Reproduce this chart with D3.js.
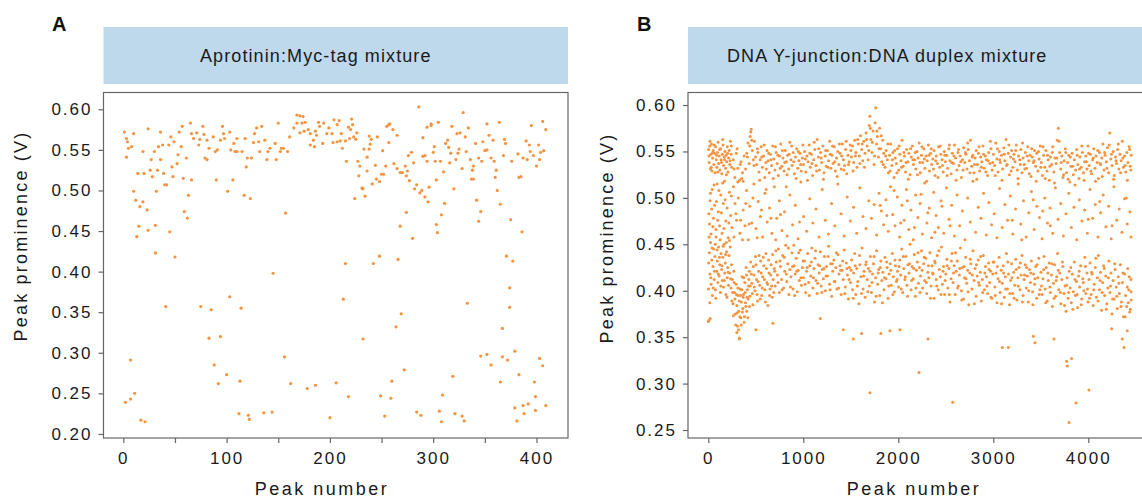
<!DOCTYPE html>
<html><head><meta charset="utf-8">
<script src="https://cdn.jsdelivr.net/npm/d3@7/dist/d3.min.js"></script>
<style>body{margin:0;background:#fff;}svg text{font-family:"Liberation Sans",Arial,Helvetica,sans-serif;}</style>
</head><body><svg id="c" width="1142" height="498"></svg>
<script>
// ---------- data ----------
const titleA = "Aprotinin:Myc-tag mixture";
const titleB = "DNA Y-junction:DNA duplex mixture";
const xLabel = "Peak number";
const yLabel = "Peak prominence (V)";
const yTicksA = [0.20,0.25,0.30,0.35,0.40,0.45,0.50,0.55,0.60];
const yTicksB = [0.25,0.30,0.35,0.40,0.45,0.50,0.55,0.60];
const xTicksA = [0,50,100,150,200,250,300,350,400];
const xLabelsA = [0,100,200,300,400];
const xTicksB = [0,1000,2000,3000,4000];

// Panel A: [peak number, prominence V]
const pointsA = [[1,.572],[3,.564],[4,.560],[3,.541],[8,.554],[10,.570],[5,.552],[14,.521],[10,.499],[12,.488],[16,.480],[15,.456],[13,.443],[19,.486],[19,.548],[20,.521],[23,.476],[24,.576],[24,.451],[26,.525],[27,.538],[28,.517],[30,.548],[31,.423],[31,.457],[32,.499],[33,.525],[34,.554],[36,.538],[36,.572],[38,.556],[39,.521],[40,.507],[42,.507],[41,.357],[44,.556],[45,.449],[46,.566],[47,.529],[48,.517],[49,.560],[50,.418],[52,.533],[53,.544],[54,.572],[56,.554],[57,.579],[58,.515],[59,.474],[61,.540],[62,.466],[63,.494],[65,.583],[66,.513],[66,.570],[68,.564],[71,.571],[73,.556],[74,.563],[75,.357],[77,.579],[78,.569],[79,.540],[81,.562],[81,.538],[83,.552],[85,.353],[83,.318],[87,.566],[88,.285],[89,.548],[90,.513],[91,.550],[92,.262],[94,.320],[94,.562],[96,.579],[97,.570],[98,.564],[100,.273],[101,.499],[103,.572],[103,.369],[104,.550],[106,.513],[107,.558],[108,.548],[110,.564],[110,.548],[112,.225],[113,.265],[114,.355],[115,.548],[117,.494],[118,.564],[119,.529],[120,.540],[121,.223],[122,.218],[123,.490],[124,.540],[126,.559],[127,.570],[129,.577],[131,.560],[132,.548],[134,.579],[136,.226],[137,.562],[139,.538],[140,.548],[142,.552],[144,.227],[145,.398],[147,.558],[148,.538],[150,.583],[152,.548],[153,.552],[155,.552],[156,.295],[157,.472],[159,.548],[161,.566],[162,.262],
[168,.593],[171,.592],[174,.591],[168,.583],[173,.583],[176,.584],[165,.577],[171,.571],[175,.573],[179,.575],[181,.570],[186,.573],[189,.584],[190,.579],[187,.568],[184,.562],[181,.556],[185,.554],[193,.558],[194,.583],[197,.570],[199,.577],
[202,.570],[204,.587],[207,.581],[209,.586],[211,.570],[203,.559],[207,.560],[210,.561],[212,.552],[215,.561],[218,.578],[220,.575],[221,.588],[222,.581],[223,.566],[226,.571],[225,.563],[219,.564],[216,.536],[227,.536],[229,.530],[224,.490],[228,.518],[231,.503],[232,.502],[234,.493],[233,.551],[236,.541],[236,.524],[238,.567],[239,.557],[240,.563],[238,.551],[241,.508],[244,.531],[245,.514],[246,.566],[248,.511],[250,.520],[252,.520],[251,.549],[254,.530],[255,.579],[257,.581],[258,.582],[257,.559],[261,.575],[262,.533],[265,.527],[265,.568],[268,.522],[270,.522],[273,.530],[275,.524],[274,.518],[277,.512],[276,.543],[279,.547],[281,.534],[282,.502],[284,.507],[286,.603],[287,.497],[289,.500],[290,.542],[290,.565],[292,.543],[292,.492],[294,.578],[294,.536],[295,.486],[296,.504],[298,.580],[298,.582],[300,.547],[301,.554],[302,.536],[303,.513],[305,.584],[307,.536],[310,.523],[311,.484],[308,.470],[312,.558],[314,.562],[315,.553],[316,.534],[317,.546],[318,.579],[320,.502],[322,.538],[323,.570],[324,.546],[325,.551],[326,.571],[328,.527],[329,.596],[331,.566],[332,.548],[334,.577],[336,.538],[337,.514],[338,.525],[339,.530],[339,.514],[341,.558],[342,.488],[344,.540],[346,.474],[347,.536],[348,.560],[344,.462],[350,.549],[352,.582],[352,.550],[354,.568],[356,.540],[358,.562],[359,.536],[360,.516],[361,.525],[362,.500],[364,.584],[365,.483],[368,.543],[369,.563],[370,.558],[371,.419],[375,.464],[377,.413],[376,.536],[382,.545],[383,.516],[385,.517],[386,.449],[387,.540],[390,.561],[391,.538],[393,.556],[394,.548],[395,.580],[397,.543],[400,.530],[402,.556],[403,.538],[404,.547],[406,.585],[407,.549],[409,.575],[215,.410],[242,.410],[248,.419],[266,.415],[268,.456],[274,.473],[280,.441],[303,.458],[304,.448],
[7,.291],[178,.256],[186,.260],[206,.263],[2,.239],[7,.243],[11,.250],[17,.217],[21,.215],[200,.220],
[213,.366],[333,.361],[374,.380],[374,.356],[367,.330],[269,.348],[264,.332],[232,.317],[346,.296],[352,.298],[356,.285],[367,.295],[372,.291],[379,.302],[383,.273],[403,.293],[406,.284],[365,.264],[398,.264],[272,.279],[260,.265],[319,.271],[218,.246],[249,.247],[259,.244],[309,.248],[253,.222],[284,.227],[288,.223],[306,.228],[308,.215],[321,.225],[328,.222],[330,.216],[379,.232],[381,.216],[387,.235],[388,.225],[392,.237],[399,.246],[399,.229],[409,.235]];

// Panel B: upper band (~0.54 V)
const upperB = [[3,.552],[9,.538],[14,.556],[21,.531],[27,.547],[33,.558],[38,.529],[45,.543],[52,.551],[58,.536],[64,.548],[71,.527],[77,.555],[83,.541],[90,.533],[96,.549],[103,.560],[109,.537],[116,.545],[122,.530],[129,.553],[135,.541],[142,.526],[148,.547],[155,.557],[161,.535],[168,.544],[174,.550],[181,.532],[187,.546],[194,.539],[200,.555],[207,.528],[213,.543],[220,.551],[226,.536],[233,.561],[240,.547],[246,.533],
[262,.541],[279,.522],[295,.548],[311,.532],[328,.519],[344,.539],[360,.527],[377,.545],[393,.531],
[405,.548],[418,.559],[430,.537],[441,.566],[452,.574],[463,.551],[474,.541],[486,.561],[497,.544],
[510,.536],[522,.549],[534,.528],[546,.541],[558,.555],[570,.533],[582,.545],[594,.522],[606,.538],[618,.551],[630,.540],[642,.527],[654,.547],[666,.535],[678,.556],[690,.542],[702,.530],[714,.549],[726,.537],[738,.524],[750,.545],[762,.558],[774,.534],[786,.543],[798,.529],[810,.551],[822,.539],[834,.546],[846,.531],[858,.560],[870,.541],[882,.535],[894,.549],[906,.526],[918,.544],[930,.553],[942,.532],[954,.540],[966,.548],[978,.529],[990,.543],
[1002,.536],[1014,.550],[1026,.528],[1038,.545],[1050,.539],[1062,.557],[1074,.533],[1086,.547],[1098,.524],[1110,.541],[1122,.552],[1134,.535],[1146,.563],[1158,.544],[1170,.530],[1182,.549],[1194,.538],[1206,.556],[1218,.527],[1230,.545],[1242,.534],[1254,.551],[1266,.540],[1278,.561],[1290,.532],[1302,.546],[1314,.537],[1326,.555],[1338,.529],[1350,.543],[1362,.550],[1374,.536],[1386,.548],[1398,.531],[1410,.558],[1422,.541],[1434,.535],[1446,.552],[1458,.526],[1470,.546],[1482,.539],[1494,.557],
[1506,.544],[1518,.556],[1530,.538],[1542,.562],[1554,.549],[1566,.533],[1578,.558],[1590,.545],[1602,.567],[1614,.552],[1626,.540],[1638,.561],
[1650,.548],[1661,.570],[1672,.556],[1683,.541],[1694,.578],[1700,.588],[1712,.563],[1723,.549],[1734,.572],[1745,.536],[1756,.581],[1762,.597],[1770,.558],[1781,.566],[1792,.544],[1803,.575],[1814,.553],[1825,.539],[1836,.562],[1847,.548],
[1860,.533],[1872,.551],[1884,.541],[1896,.527],[1908,.546],[1920,.558],[1932,.535],[1944,.549],[1956,.522],[1968,.543],[1980,.537],[1992,.553],[2004,.530],[2016,.547],[2028,.540],[2040,.562],[2052,.534],[2064,.545],[2076,.528],[2088,.552],[2100,.539],[2112,.548],[2124,.525],[2136,.544],[2148,.556],[2160,.536],[2172,.541],[2184,.531],[2196,.550],[2208,.543],[2220,.559],[2232,.527],[2244,.546],[2256,.538],[2268,.553],[2280,.532],[2292,.545],[2304,.540],[2316,.557],[2328,.529],[2340,.548],[2352,.536],[2364,.542],[2376,.551],[2388,.524],[2400,.545],[2412,.537],[2424,.555],[2436,.533],[2448,.547],[2460,.541],[2472,.528],[2484,.550],[2496,.539],
[2508,.546],[2520,.532],[2532,.553],[2544,.540],[2556,.526],[2568,.548],[2580,.537],[2592,.557],[2604,.543],[2616,.530],[2628,.549],[2640,.535],[2652,.545],[2664,.522],[2676,.541],[2688,.554],[2700,.538],[2712,.547],[2724,.531],[2736,.552],[2748,.540],[2760,.562],[2772,.534],[2784,.546],[2796,.527],[2808,.543],[2820,.551],[2832,.536],[2844,.548],[2856,.529],[2868,.544],[2880,.539],[2892,.556],[2904,.532],[2916,.545],[2928,.541],[2940,.524],[2952,.549],[2964,.537],[2976,.553],[2988,.530],
[3002,.547],[3014,.535],[3026,.559],[3038,.542],[3050,.528],[3062,.550],[3074,.538],[3086,.546],[3098,.531],[3110,.554],[3122,.540],[3134,.563],[3146,.536],[3158,.548],[3170,.525],[3182,.544],[3194,.551],[3206,.533],[3218,.547],[3230,.539],[3242,.557],[3254,.530],[3266,.545],[3278,.541],[3290,.552],[3302,.527],[3314,.543],[3326,.536],[3338,.549],[3350,.532],[3362,.555],[3374,.540],[3386,.546],[3398,.523],[3410,.544],[3422,.538],[3434,.551],[3446,.534],[3458,.548],[3470,.529],[3482,.542],[3494,.556],
[3506,.538],[3518,.524],[3530,.546],[3542,.533],[3554,.551],[3566,.529],[3578,.541],[3590,.519],[3602,.544],[3614,.536],[3626,.555],[3638,.528],[3650,.543],[3662,.537],[3674,.562],[3686,.575],[3698,.549],[3710,.531],[3722,.545],[3734,.522],[3746,.540],[3758,.553],[3770,.527],[3782,.538],[3794,.546],[3806,.517],[3818,.534],[3830,.548],[3842,.525],[3854,.541],[3866,.530],[3878,.552],[3890,.536],[3902,.521],[3914,.544],[3926,.533],[3938,.549],[3950,.527],[3962,.539],[3974,.545],[3986,.531],[3998,.556],
[4010,.535],[4022,.547],[4034,.526],[4046,.541],[4058,.553],[4070,.532],[4082,.545],[4094,.538],[4106,.521],[4118,.549],[4130,.536],[4142,.543],[4154,.558],[4166,.530],[4178,.546],[4190,.539],[4202,.554],[4214,.527],[4226,.570],[4238,.542],[4250,.535],[4262,.550],[4274,.524],[4286,.544],[4298,.537],[4310,.552],[4322,.531],[4334,.547],[4346,.540],[4358,.561],[4370,.533],[4382,.545],[4394,.528],[4406,.549],[4418,.538],[4430,.555],[4442,.534],[4452,.546]];

// Panel B: more peaks
const upperB2 = [[7,.545],[18,.561],[31,.533],[47,.549],[61,.557],[86,.546],[99,.528],[119,.552],[138,.538],[151,.563],[171,.541],[190,.525],[203,.548],[229,.540],[243,.556],[271,.531],[303,.553],[336,.536],[368,.518],[412,.544],[436,.556],[447,.571],[458,.562],[481,.535],[516,.553],[540,.519],[563,.544],[588,.557],[611,.531],[636,.548],[660,.541],[684,.521],[707,.555],[733,.546],[757,.532],[780,.551],[805,.538],[829,.525],[852,.547],[877,.556],[899,.539],[924,.521],[948,.550],[972,.536],[996,.557],[1020,.542],[1044,.519],[1068,.548],[1092,.537],[1116,.560],[1140,.529],[1164,.553],[1188,.543],[1212,.520],[1236,.551],[1260,.533],[1284,.547],[1308,.556],[1332,.539],[1356,.523],[1380,.558],[1404,.545],[1428,.530],[1452,.561],[1476,.536],[1500,.551],[1524,.529],[1548,.545],[1572,.563],[1596,.537],[1620,.558],[1644,.533],[1667,.563],[1689,.551],[1706,.575],[1728,.560],[1750,.545],[1775,.572],[1797,.553],[1820,.567],[1842,.536],[1866,.545],[1890,.558],[1914,.529],[1938,.541],[1962,.551],[1986,.527],[2010,.556],[2034,.533],[2058,.549],[2082,.538],[2106,.520],[2130,.553],[2154,.541],[2178,.549],[2202,.525],[2226,.538],[2250,.555],[2274,.542],[2298,.518],[2322,.546],[2346,.553],[2370,.531],[2394,.540],[2418,.522],[2442,.556],[2466,.535],[2490,.546],[2514,.524],[2538,.557],[2562,.538],[2586,.545],[2610,.519],[2634,.552],[2658,.539],[2682,.530],[2706,.549],[2730,.559],[2754,.527],[2778,.544],[2802,.536],[2826,.520],[2850,.555],[2874,.533],[2898,.547],[2922,.528],[2946,.540],[2970,.561],[2994,.538],[3020,.524],[3044,.553],[3068,.541],[3092,.519],[3116,.547],[3140,.535],[3164,.557],[3188,.529],[3212,.542],[3236,.551],[3260,.521],[3284,.536],[3308,.559],[3332,.531],[3356,.545],[3380,.526],[3404,.553],[3428,.540],[3452,.518],[3476,.550],[3500,.533],[3524,.555],[3548,.521],[3572,.546],[3596,.534],[3620,.549],[3644,.516],[3668,.543],[3692,.561],[3716,.538],[3740,.525],[3764,.549],[3788,.520],[3812,.544],[3836,.534],[3860,.514],[3884,.546],[3908,.531],[3932,.556],[3956,.519],[3980,.539],[4004,.548],[4028,.529],[4052,.543],[4076,.518],[4100,.551],[4124,.537],[4148,.523],[4172,.549],[4196,.532],[4220,.557],[4244,.547],[4268,.520],[4292,.540],[4316,.558],[4340,.527],[4364,.543],[4388,.535],[4412,.519],[4436,.552],[4447,.530]];

// Panel B: lower band (~0.41 V)
const lowerB = [[2,.402],[6,.368],[11,.441],[17,.418],[24,.452],[30,.407],[36,.433],[43,.395],[49,.426],[56,.445],[62,.412],[69,.437],[75,.401],[82,.458],[88,.421],[95,.432],[101,.409],[108,.447],[114,.416],[121,.428],[127,.398],[134,.440],[140,.423],[147,.411],[153,.436],[160,.404],[166,.450],[173,.419],[179,.430],[186,.396],[192,.442],[199,.414],[205,.425],[212,.406],[218,.438],[225,.419],[231,.447],[238,.403],[244,.428],
[252,.412],[260,.386],[268,.421],[276,.398],[284,.375],[292,.407],[300,.384],[307,.362],[314,.395],[321,.378],[328,.349],[335,.402],[342,.371],[349,.388],[356,.415],[363,.381],[370,.396],[377,.366],[384,.409],[391,.387],[398,.425],[405,.378],[412,.401],[419,.391],[426,.412],[433,.383],[440,.405],
[452,.418],[463,.397],[474,.426],[485,.404],[496,.437],[507,.412],[518,.389],[529,.421],[540,.406],[551,.432],[562,.395],[573,.415],[584,.427],[595,.401],[606,.440],[617,.409],[628,.384],[639,.419],[650,.402],[661,.428],[672,.393],[683,.412],[694,.424],
[705,.405],[716,.431],[727,.417],[738,.445],[749,.398],[760,.426],[771,.412],[782,.438],[793,.403],[804,.421],[815,.449],[826,.410],[837,.429],[848,.396],[859,.423],[870,.415],[881,.441],[892,.402],[903,.427],[914,.418],[925,.435],[936,.399],[947,.422],[958,.411],[969,.444],[980,.406],[991,.425],
[1002,.414],[1013,.432],[1024,.398],[1035,.421],[1046,.440],[1057,.409],[1068,.427],[1079,.416],[1090,.446],[1101,.403],[1112,.424],[1123,.435],[1134,.411],[1145,.397],[1156,.428],[1167,.419],[1178,.442],[1189,.405],[1200,.423],[1211,.413],[1222,.437],[1233,.400],[1244,.426],[1255,.416],[1266,.448],[1277,.407],[1288,.429],[1299,.394],[1310,.421],[1321,.433],[1332,.410],[1343,.425],[1354,.402],[1365,.439],[1376,.418],[1387,.427],[1398,.396],[1409,.422],[1420,.412],[1431,.444],[1442,.404],[1453,.430],[1464,.417],[1475,.391],[1486,.425],[1497,.409],
[1508,.433],[1519,.401],[1530,.419],[1541,.440],[1552,.396],[1563,.424],[1574,.410],[1585,.386],[1596,.428],[1607,.415],[1618,.446],[1629,.402],[1640,.421],[1651,.393],[1662,.431],[1673,.412],[1684,.424],[1695,.405],[1706,.437],[1717,.398],[1728,.418],[1739,.429],[1750,.388],[1761,.414],[1772,.443],[1783,.407],[1794,.423],[1805,.395],[1816,.432],[1827,.411],[1838,.420],[1849,.401],[1860,.436],[1871,.413],[1882,.425],[1893,.392],[1904,.418],[1915,.429],[1926,.406],[1937,.440],[1948,.415],[1959,.399],[1970,.427],[1981,.410],[1992,.421],
[2003,.404],[2014,.433],[2025,.417],[2036,.445],[2047,.398],[2058,.424],[2069,.412],[2080,.437],[2091,.406],[2102,.428],[2113,.419],[2124,.450],[2135,.401],[2146,.426],[2157,.413],[2168,.439],[2179,.394],[2190,.422],[2201,.431],[2212,.408],[2223,.425],[2234,.416],[2245,.443],[2256,.403],[2267,.429],[2278,.411],[2289,.435],[2300,.397],[2311,.420],[2322,.414],[2333,.441],[2344,.405],[2355,.427],[2366,.418],[2377,.392],[2388,.430],[2399,.412],[2410,.438],[2421,.401],[2432,.423],[2443,.415],[2454,.447],[2465,.407],[2476,.426],[2487,.396],
[2500,.418],[2511,.434],[2522,.403],[2533,.424],[2544,.388],[2555,.413],[2566,.440],[2577,.409],[2588,.427],[2599,.396],[2610,.421],[2621,.432],[2632,.405],[2643,.417],[2654,.446],[2665,.400],[2676,.425],[2687,.391],[2698,.414],[2709,.436],[2720,.408],[2731,.422],[2742,.385],[2753,.419],[2764,.429],[2775,.402],[2786,.443],[2797,.411],[2808,.424],[2819,.394],[2830,.416],[2841,.433],[2852,.406],[2863,.420],[2874,.389],[2885,.412],[2896,.438],[2907,.401],[2918,.426],[2929,.415],[2940,.397],[2951,.430],[2962,.409],[2973,.421],[2984,.392],[2995,.418],
[3006,.431],[3017,.404],[3028,.419],[3039,.387],[3050,.413],[3061,.436],[3072,.398],[3083,.422],[3094,.408],[3105,.427],[3116,.393],[3127,.415],[3138,.440],[3149,.402],[3160,.418],[3171,.385],[3182,.411],[3193,.429],[3204,.397],[3215,.420],[3226,.406],[3237,.434],[3248,.390],[3259,.414],[3270,.425],[3281,.401],[3292,.417],[3303,.438],[3314,.395],[3325,.412],[3336,.428],[3347,.403],[3358,.416],[3369,.388],[3380,.423],[3391,.409],[3402,.432],[3413,.399],[3424,.418],[3435,.407],[3446,.426],[3457,.392],[3468,.414],[3479,.435],[3490,.401],
[3502,.420],[3513,.396],[3524,.413],[3535,.437],[3546,.402],[3557,.425],[3568,.389],[3579,.411],[3590,.430],[3601,.398],[3612,.417],[3623,.383],[3634,.408],[3645,.428],[3656,.394],[3667,.415],[3678,.440],[3689,.401],[3700,.419],[3711,.386],[3722,.412],[3733,.426],[3744,.397],[3755,.405],[3766,.378],[3777,.414],[3788,.392],[3799,.421],[3810,.403],[3821,.387],[3832,.418],[3843,.399],[3854,.431],[3865,.395],[3876,.410],[3887,.382],[3898,.416],[3909,.404],[3920,.427],[3931,.391],[3942,.413],[3953,.400],[3964,.436],[3975,.397],[3986,.419],[3997,.388],
[4008,.412],[4019,.430],[4030,.396],[4041,.418],[4052,.384],[4063,.407],[4074,.425],[4085,.393],[4096,.414],[4107,.438],[4118,.401],[4129,.420],[4140,.379],[4151,.409],[4162,.427],[4173,.395],[4184,.416],[4195,.386],[4206,.403],[4217,.432],[4228,.398],[4239,.419],[4250,.375],[4261,.411],[4272,.391],[4283,.423],[4294,.404],[4305,.381],[4316,.415],[4327,.397],[4338,.428],[4349,.388],[4360,.409],[4371,.372],[4382,.418],[4393,.395],[4404,.383],[4415,.424],[4426,.401],[4437,.377],[4448,.412],[4452,.390]];

// Panel B: more peaks
const lowerB2 = [[4,.430],[15,.387],[27,.414],[40,.446],[52,.403],[65,.421],[79,.392],[92,.444],[105,.418],[117,.436],[131,.405],[144,.427],[157,.448],[170,.411],[183,.439],[196,.393],[209,.420],[222,.454],[235,.413],[248,.389],[256,.398],[264,.373],[272,.409],[280,.391],[288,.363],[296,.396],[304,.376],[311,.403],[318,.358],[325,.389],[332,.372],[339,.395],[346,.363],[353,.401],[360,.377],[367,.393],[374,.414],[381,.372],[388,.398],[395,.383],[402,.417],[409,.393],[416,.371],[423,.405],[430,.421],[437,.394],[446,.431],[458,.408],[469,.385],[480,.417],[491,.400],[502,.428],[513,.396],[524,.410],[535,.438],[546,.391],[557,.419],[568,.403],[579,.436],[590,.412],[601,.388],[612,.424],[623,.407],[634,.433],[645,.395],[656,.417],[667,.405],[678,.439],[689,.398],[700,.421],
[711,.443],[733,.409],[755,.432],[777,.401],[799,.436],[821,.418],[843,.446],[865,.404],[887,.426],[909,.395],[931,.421],[953,.441],[975,.414],[997,.432],
[1019,.407],[1041,.425],[1063,.395],[1085,.431],[1107,.414],[1129,.443],[1151,.408],[1173,.427],[1195,.398],[1217,.424],[1239,.416],[1261,.437],[1283,.401],[1305,.429],[1327,.410],[1349,.441],[1371,.403],[1393,.422],[1415,.432],[1437,.397],[1459,.424],[1481,.412],
[1503,.422],[1525,.392],[1547,.427],[1569,.405],[1591,.438],[1613,.397],[1635,.416],[1657,.428],[1679,.399],[1701,.421],[1723,.409],[1745,.437],[1767,.394],[1789,.419],[1811,.425],[1833,.387],[1855,.414],[1877,.431],[1899,.405],[1921,.422],[1943,.396],[1965,.433],[1987,.412],
[2009,.426],[2031,.402],[2053,.437],[2075,.415],[2097,.394],[2119,.429],[2141,.411],[2163,.424],[2185,.403],[2207,.441],[2229,.398],[2251,.422],[2273,.436],[2295,.409],[2317,.427],[2339,.392],[2361,.419],[2383,.432],[2405,.405],[2427,.443],[2449,.396],[2471,.421],[2493,.411],
[2515,.427],[2537,.396],[2559,.432],[2581,.419],[2603,.441],[2625,.403],[2647,.424],[2669,.390],[2691,.426],[2713,.413],[2735,.399],[2757,.434],[2779,.417],[2801,.386],[2823,.428],[2845,.409],[2867,.437],[2889,.398],[2911,.419],[2933,.405],[2955,.423],[2977,.393],[2999,.431],
[3021,.395],[3043,.426],[3065,.410],[3087,.386],[3109,.419],[3131,.402],[3153,.431],[3175,.397],[3197,.414],[3219,.392],[3241,.423],[3263,.405],[3285,.430],[3307,.388],[3329,.417],[3351,.425],[3373,.400],[3395,.419],[3417,.385],[3439,.413],[3461,.428],[3483,.396],
[3508,.405],[3530,.423],[3552,.387],[3574,.419],[3596,.404],[3618,.429],[3640,.392],[3662,.411],[3684,.422],[3706,.398],[3728,.431],[3750,.384],[3772,.406],[3794,.398],[3816,.425],[3838,.380],[3860,.412],[3882,.396],[3904,.421],[3926,.385],[3948,.409],[3970,.426],[3992,.402],
[4014,.392],[4036,.420],[4058,.401],[4080,.435],[4102,.389],[4124,.411],[4146,.398],[4168,.424],[4190,.380],[4212,.414],[4234,.405],[4256,.391],[4278,.429],[4300,.394],[4322,.408],[4344,.383],[4366,.419],[4388,.372],[4410,.404],[4421,.387],[4432,.415],[4443,.380],[4450,.399]];

// Panel B: peaks between the two bands
const middleB = [[5,.483],[12,.472],[19,.497],[28,.461],[40,.509],[54,.478],[66,.492],[80,.466],[93,.515],[105,.485],[118,.470],[131,.503],[145,.462],[158,.494],[170,.518],[184,.475],[197,.489],[210,.457],[223,.506],[236,.481],[249,.468],[265,.512],[281,.494],[297,.476],[316,.500],[333,.462],[351,.521],[368,.487],[386,.470],[403,.508],[421,.455],[437,.491],[458,.473],[480,.515],[502,.467],[525,.496],[548,.480],[572,.458],[596,.505],[620,.474],[645,.489],[670,.462],[695,.512],[720,.478],[748,.497],[775,.465],[802,.485],[830,.459],[858,.503],[887,.471],[916,.492],[945,.456],[974,.517],[1003,.480],[1035,.464],[1068,.499],[1100,.473],[1133,.488],[1166,.458],[1199,.509],[1232,.476],[1265,.461],[1298,.494],[1331,.470],[1364,.515],[1397,.483],[1430,.459],[1463,.501],[1496,.475],[1529,.490],[1562,.462],[1595,.511],[1628,.480],[1660,.467],[1690,.497],[1718,.478],[1746,.493],[1772,.460],[1798,.505],[1822,.486],[1846,.471],[1870,.498],[1894,.464],[1918,.512],[1942,.482],[1966,.470],[1990,.501],[2014,.458],[2038,.492],[2062,.476],[2086,.509],[2110,.466],[2134,.487],[2158,.455],[2182,.503],[2206,.479],[2230,.494],[2254,.461],[2278,.516],[2302,.473],[2326,.489],[2350,.457],[2374,.506],[2398,.481],[2422,.468],[2450,.497],[2478,.462],[2506,.511],[2534,.477],[2562,.492],[2590,.459],[2618,.503],[2646,.470],[2674,.486],[2702,.455],[2730,.500],[2758,.474],[2786,.518],[2814,.463],[2842,.490],[2870,.478],[2898,.505],[2926,.460],[2954,.495],[2982,.471],[3010,.483],[3038,.457],[3066,.510],[3094,.468],[3122,.493],[3150,.476],[3178,.502],[3206,.461],[3234,.488],[3262,.515],[3290,.472],[3318,.497],[3346,.458],[3374,.484],[3402,.507],[3430,.466],[3458,.491],[3486,.479],[3514,.456],[3542,.500],[3570,.473],[3598,.489],[3626,.462],[3654,.511],[3682,.477],[3710,.494],[3738,.459],[3766,.483],[3794,.505],[3822,.468],[3850,.490],[3878,.455],[3906,.498],[3934,.475],[3962,.487],[3990,.462],[4018,.509],[4046,.478],[4074,.493],[4102,.458],[4130,.484],[4158,.503],[4186,.469],[4214,.491],[4242,.456],[4270,.512],[4298,.476],[4326,.488],[4354,.463],[4382,.499],[4410,.472],[4438,.485],[4450,.458],
[9,.458],[23,.505],[35,.488],[48,.469],[60,.514],[73,.450],[86,.496],[99,.476],[112,.508],[125,.455],[138,.484],[151,.516],[164,.467],[177,.498],[190,.452],[216,.473],[242,.502],[270,.458],[290,.483],[310,.517],[340,.476],[360,.455],[395,.494],[430,.472],[470,.500],[515,.457],[560,.487],[610,.509],[660,.478],[710,.455],[760,.482],[820,.512],[900,.449],[960,.474],[1810,.492],[1880,.481],[1955,.508],[2025,.473],[2095,.497],[2170,.468],[2240,.504],[2310,.484],[2385,.463],[2460,.491],[2545,.470],[3200,.476],[3300,.455],[3420,.498],[3520,.486],[3600,.470],[4000,.477],[4120,.496],[4250,.470],[4400,.500]];

// Panel B: low outliers
const outliersB = [[0,.367],[20,.370],[300,.355],[326,.348],[500,.358],[680,.365],[1180,.370],[1421,.358],[1526,.348],[1614,.354],[1702,.290],[1817,.354],[1912,.357],[2017,.358],[2218,.312],[2313,.348],[2573,.280],[3095,.339],[3158,.339],[3421,.351],[3438,.344],[3639,.348],[3772,.324],[3779,.319],[3824,.327],[3797,.258],[3871,.279],[4007,.293],[4246,.359],[4358,.348],[4376,.339],[4411,.357]];

// ---------- drawing ----------
const svg = d3.select("#c");
const dotColor = "#f5933f";
const frameColor = "#666666";
const bannerColor = "#bed8ec";

function panel(o){
  const g = svg.append("g");
  const x = d3.scaleLinear().domain(o.xDom).range([o.left, o.right]);
  const y = d3.scaleLinear().domain(o.yDom).range([o.bottom, o.top]);
  g.append("rect").attr("x", o.left).attr("y", 27).attr("width", o.bannerRight - o.left).attr("height", 57).attr("fill", bannerColor);
  g.append("text").attr("x", o.titleX).attr("y", 62).attr("font-size", 18).attr("letter-spacing", 1.1).attr("fill", "#1a1a1a").text(o.title);
  g.append("text").attr("x", o.letterX).attr("y", 31).attr("font-size", 20).attr("font-weight", "bold").attr("fill", "#111").text(o.letter);
  const pg = g.append("g");
  o.series.forEach(s => {
    pg.selectAll(null).data(s).enter().append("circle")
      .attr("cx", d => x(d[0])).attr("cy", d => y(d[1])).attr("r", o.r).attr("fill", dotColor);
  });
  g.append("rect").attr("x", o.left).attr("y", o.top).attr("width", o.right - o.left).attr("height", o.bottom - o.top)
    .attr("fill", "none").attr("stroke", frameColor).attr("stroke-width", 1.2);
  const ya = g.append("g").attr("transform", `translate(${o.left},0)`)
    .call(d3.axisLeft(y).tickValues(o.yTicks).tickFormat(d3.format(".2f")).tickSize(5).tickPadding(6));
  const xa = g.append("g").attr("transform", `translate(0,${o.bottom})`)
    .call(d3.axisBottom(x).tickValues(o.xTicks).tickFormat(d => o.xLabels.includes(d) ? d : "").tickSize(5).tickPadding(9));
  [ya, xa].forEach(a => {
    a.select(".domain").remove();
    a.selectAll(".tick line").attr("stroke", frameColor).attr("stroke-width", 1.2);
    a.selectAll(".tick text").attr("font-size", 17).attr("letter-spacing", 2).attr("fill", "#1a1a1a")
      .attr("font-family", '"Liberation Sans",Arial,sans-serif');
  });
  g.append("text").attr("x", o.xLabelX).attr("y", 495).attr("text-anchor", "middle").attr("font-size", 18)
    .attr("letter-spacing", 2.5).attr("fill", "#1a1a1a").text(xLabel);
  g.append("text").attr("transform", `translate(${o.yLabelX},${o.yLabelY}) rotate(-90)`).attr("text-anchor", "middle")
    .attr("font-size", 18).attr("letter-spacing", 2.2).attr("fill", "#1a1a1a").text(yLabel);
}

panel({letter:"A", letterX:52, title:titleA, titleX:200, left:103.5, right:568, bannerRight:568, top:92.5, bottom:438,
  xDom:[-19.2,430.5], yDom:[0.195,0.6207], yTicks:yTicksA, xTicks:xTicksA, xLabels:xLabelsA,
  series:[pointsA], r:1.6, xLabelX:322, yLabelX:27, yLabelY:236});
panel({letter:"B", letterX:637, title:titleB, titleX:727, left:688, right:1152, bannerRight:1152, top:92.5, bottom:438,
  xDom:[-213.7, 4671], yDom:[0.2414,0.6135], yTicks:yTicksB, xTicks:xTicksB, xLabels:xTicksB,
  series:[middleB, lowerB, lowerB2, upperB, upperB2, outliersB], r:1.5, xLabelX:914, yLabelX:613, yLabelY:238});
</script></body></html>
